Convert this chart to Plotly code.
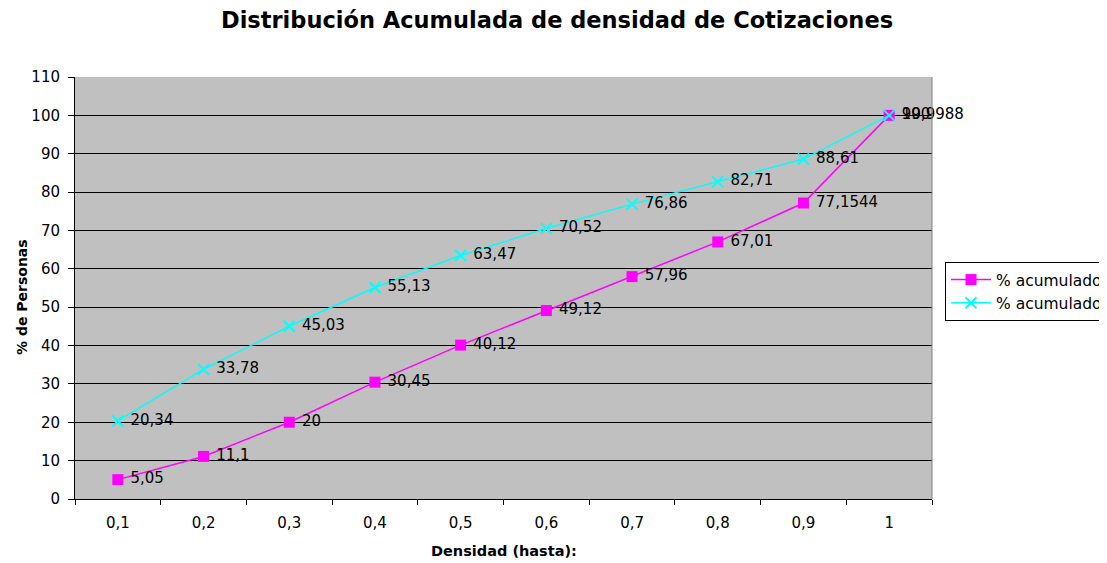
import plotly.graph_objects as go

categories = ["0,1", "0,2", "0,3", "0,4", "0,5", "0,6", "0,7", "0,8", "0,9", "1"]
serie_a = [5.05, 11.1, 20, 30.45, 40.12, 49.12, 57.96, 67.01, 77.1544, 99.9988]
serie_b = [20.34, 33.78, 45.03, 55.13, 63.47, 70.52, 76.86, 82.71, 88.61, 100]
labels_a = ["5,05", "11,1", "20", "30,45", "40,12", "49,12", "57,96", "67,01", "77,1544", "99,9988"]
labels_b = ["20,34", "33,78", "45,03", "55,13", "63,47", "70,52", "76,86", "82,71", "88,61", "100"]
series_name = "% acumulado"
font = "DejaVu Sans, Verdana, sans-serif"

# the page body adds an 8px margin, so work in page coordinates minus 8
OFF = 8
W, H = 1107, 563 - OFF
PL, PR, PT, PB = 75, 932, 77, 499  # plot area edges in page pixels
pw, ph = PR - PL, PB - PT

fig = go.Figure()
fig.add_trace(go.Scatter(
    x=categories, y=serie_a, mode="lines+markers+text", name=series_name,
    text=[" " + t for t in labels_a], textposition="middle right", cliponaxis=False,
    textfont=dict(family=font, size=15, color="black"),
    line=dict(color="#FF00FF", width=1.5),
    marker=dict(symbol="square", size=11, color="#FF00FF"),
))
fig.add_trace(go.Scatter(
    x=categories, y=serie_b, mode="lines+markers+text", name=series_name,
    text=[" " + t for t in labels_b], textposition="middle right", cliponaxis=False,
    textfont=dict(family=font, size=15, color="black"),
    line=dict(color="#00FFFF", width=1.5),
    marker=dict(symbol="x-thin", size=11, color="#00FFFF",
                line=dict(color="#00FFFF", width=2)),
))

fig.update_layout(
    width=W, height=H,
    margin=dict(l=PL - OFF, r=W - (PR - OFF), t=PT - OFF, b=H - (PB - OFF), autoexpand=False),
    paper_bgcolor="white", plot_bgcolor="#C0C0C0",
    font=dict(family=font, size=15, color="black"),
    title=dict(text="<b>Distribución Acumulada de densidad de Cotizaciones</b>",
               x=(557 - OFF) / W, xanchor="center", y=1 - (20 - OFF) / H, yanchor="middle",
               font=dict(family=font, size=22.5, color="black")),
    showlegend=True,
    legend=dict(x=(945 - PL) / pw, y=(PB - 262) / ph, xanchor="left", yanchor="top",
                bgcolor="white", bordercolor="black", borderwidth=1,
                font=dict(family=font, size=15.5), tracegroupgap=0,
                itemwidth=40),
    xaxis=dict(type="category", range=[-0.5, 9.5], tickson="boundaries",
               ticks="outside", ticklen=5, tickcolor="black",
               showgrid=False, showline=True, linecolor="black", linewidth=1,
               mirror=False, zeroline=False, automargin=False,
               ticklabelstandoff=10,
               tickfont=dict(family=font, size=15)),
    yaxis=dict(range=[0, 110], dtick=10, ticks="outside", ticklen=6,
               tickcolor="black", showgrid=True, gridcolor="black", gridwidth=1,
               showline=True, linecolor="black", linewidth=1, zeroline=False,
               automargin=False, ticklabelstandoff=5,
               tickfont=dict(family=font, size=15)),
    annotations=[
        dict(text="<b>Densidad (hasta):</b>", xref="paper", yref="paper",
             x=(504 - PL) / pw, y=-(551 - PB) / ph, xanchor="center", yanchor="middle",
             showarrow=False, font=dict(family=font, size=14.5)),
        dict(text="<b>% de Personas</b>", xref="paper", yref="paper",
             x=-(PL - 22) / pw, y=(PB - 297) / ph, xanchor="center", yanchor="middle",
             textangle=-90, showarrow=False, font=dict(family=font, size=14)),
    ],
)
fig.add_shape(type="line", xref="paper", yref="paper", x0=1, x1=1, y0=0, y1=1,
              line=dict(color="#808080", width=1))

fig.write_html("out.html")
